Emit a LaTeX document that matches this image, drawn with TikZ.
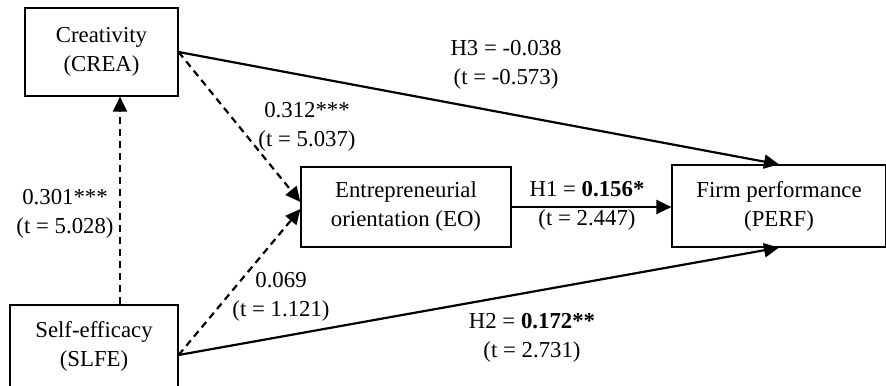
\documentclass[tikz,border=0pt]{standalone}
\usepackage{fontspec}
\setmainfont{Liberation Serif}
\usetikzlibrary{arrows.meta,calc}
\begin{document}
\begin{tikzpicture}[x=0.5pt,y=-0.5pt,
  box/.style={draw, line width=0.6pt, align=center, inner sep=0pt, font=\fontsize{11.4}{14.5}\selectfont},
  lab/.style={align=center, inner sep=0pt, font=\fontsize{11.4}{14.5}\selectfont},
  arr/.style={line width=1.1pt, -{Triangle[length=7.5pt,width=7pt]}},
  dsh/.style={arr, dash pattern=on 3.5pt off 2.5pt}]
\useasboundingbox (0,0) rectangle (886,385);
% boxes
\node[box, minimum width=76.5pt, minimum height=44pt] (crea) at (101.5,52) {Creativity\\(CREA)};
\node[box, minimum width=84pt, minimum height=41pt] (slfe) at (94,346) {Self-efficacy\\(SLFE)};
\node[box, minimum width=105pt, minimum height=40pt] (eo) at (406,207) {Entrepreneurial\\orientation (EO)};
\node[box, minimum width=107pt, minimum height=41pt] (perf) at (779,206) {Firm performance\\(PERF)};
% connector end points
\coordinate (s1) at ($(slfe.north)+(26,0)$);
\coordinate (s2) at ($(slfe.east)+(0,9)$);
\coordinate (e1) at ($(eo.west)+(0,-5)$);
\coordinate (e2) at ($(eo.west)+(0,2)$);
% connectors
\draw[arr] (crea.east) -- (perf.north);
\draw[arr] (s2) -- (perf.south);
\draw[arr] (eo.east) -- (eo.east -| perf.west);
\draw[dsh] (crea.east) -- (e1);
\draw[dsh] (s2) -- (e2);
\draw[dsh] (s1) -- (s1 |- crea.south);
% labels
\node[lab] (lh3) at (506,65) {H3 = -0.038\\(t = -0.573)};
\node[lab] (l312) at (307,127) {0.312***\\(t = 5.037)};
\node[lab] (l301) at (65,214) {0.301***\\(t = 5.028)};
\node[lab] (l069) at (281,297) {0.069\\(t = 1.121)};
\node[lab] (lh1) at (587,206) {H1 = \textbf{0.156*}\\(t = 2.447)};
\node[lab] (lh2) at (532,338) {H2 = \textbf{0.172**}\\(t = 2.731)};
\end{tikzpicture}
\end{document}
